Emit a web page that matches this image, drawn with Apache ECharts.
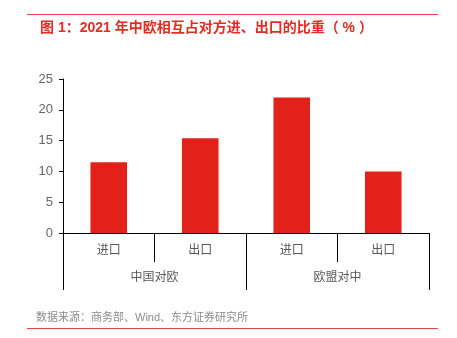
<!DOCTYPE html>
<html><head><meta charset="utf-8">
<script src="https://cdn.jsdelivr.net/npm/echarts@6/dist/echarts.min.js"></script>
<style>html,body{margin:0;padding:0;background:#fff}#c{width:457px;height:338px}</style>
</head><body><div id="c"></div>
<script>
const subCategories = ['进口', '出口', '进口', '出口'];
const groupCategories = ['中国对欧', '欧盟对中'];
const values = [11.5, 15.4, 22.0, 10.0];
const yTicks = [0, 5, 10, 15, 20, 25];

const chart = echarts.init(document.getElementById('c'));
const font = '"Liberation Sans", "Noto Sans CJK SC", sans-serif';
chart.setOption({
  animation: false,
  textStyle: { fontFamily: font },
  title: {
    text: '图 1：2021 年中欧相互占对方进、出口的比重（ % ）',
    left: 35, top: 16,
    textStyle: { color: '#e52b22', fontSize: 14, fontWeight: 'bold', fontFamily: font }
  },
  graphic: [
    { type: 'line', shape: { x1: 27, y1: 14.5, x2: 438, y2: 14.5 }, style: { stroke: '#e8473f', lineWidth: 1 } },
    { type: 'line', shape: { x1: 27, y1: 328.5, x2: 438, y2: 328.5 }, style: { stroke: '#e8473f', lineWidth: 1 } },
    { type: 'text', left: 36, top: 312, style: { text: '数据来源：商务部、Wind、东方证券研究所', fill: '#8c8c8c', fontSize: 11, fontFamily: font } }
  ],
  grid: { left: 63, right: 28, top: 79, bottom: 105 },
  xAxis: [
    {
      type: 'category', data: subCategories, position: 'bottom',
      axisLine: { lineStyle: { color: '#000', width: 1 } },
      axisTick: { show: true, length: 29, lineStyle: { color: '#000' } },
      axisLabel: { color: '#595959', fontSize: 12, margin: 12 }
    },
    {
      type: 'category', data: groupCategories, position: 'bottom',
      axisLine: { show: false },
      axisTick: { show: true, length: 57, lineStyle: { color: '#000' } },
      axisLabel: { color: '#595959', fontSize: 12, margin: 39 }
    }
  ],
  yAxis: {
    type: 'value', min: 0, max: 25, interval: 5,
    splitLine: { show: false },
    axisLine: { show: true, lineStyle: { color: '#000' } },
    axisTick: { show: true, length: 4, lineStyle: { color: '#000' } },
    axisLabel: { color: '#666666', fontSize: 13, margin: 10, formatter: v => yTicks.includes(v) ? String(v) : '' }
  },
  series: [{
    type: 'bar', data: values, xAxisIndex: 0, barWidth: '40%',
    itemStyle: { color: '#e3211b' }
  }]
});
</script></body></html>
